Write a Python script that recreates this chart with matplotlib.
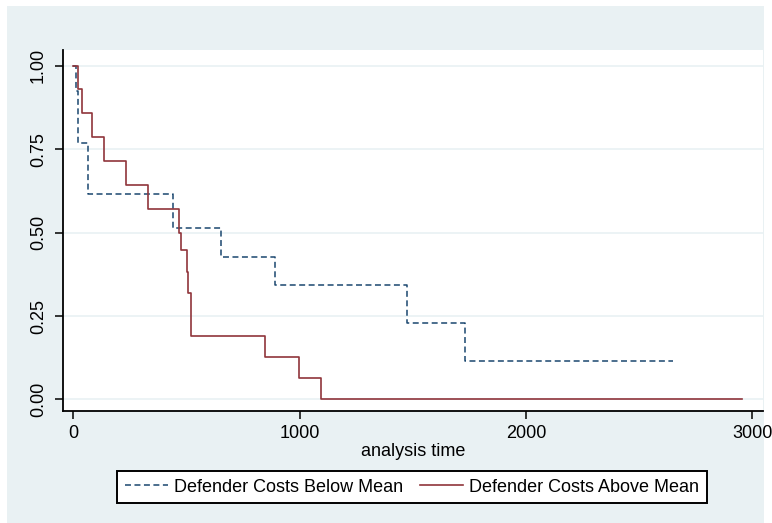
import matplotlib
matplotlib.use("Agg")
import matplotlib.pyplot as plt
import matplotlib.font_manager as font_manager
from matplotlib.patches import Rectangle

# Kaplan-Meier estimates
below_time = [0, 14, 22, 63, 440, 652, 892, 1476, 1731, 2650]
below_surv = [1.0, 0.923, 0.769, 0.615, 0.513, 0.427, 0.342, 0.228, 0.114, 0.114]

above_time = [0, 22, 40, 84, 136, 233, 329, 466, 477, 502, 509, 521, 848, 996, 1095, 2957]
above_surv = [1.0, 0.929, 0.857, 0.786, 0.714, 0.643, 0.571, 0.5, 0.447, 0.382,
              0.319, 0.191, 0.127, 0.064, 0.0, 0.0]

x_ticks = [0, 1000, 2000, 3000]
y_ticks = [0.0, 0.25, 0.50, 0.75, 1.00]
y_ticklabels = ["0.00", "0.25", "0.50", "0.75", "1.00"]

names = [f.name for f in font_manager.fontManager.ttflist]
if "Liberation Sans Narrow" in names:
    matplotlib.rcParams["font.family"] = ["Liberation Sans Narrow", "DejaVu Sans"]
    fs = 15
else:
    matplotlib.rcParams["font.family"] = ["Liberation Sans", "DejaVu Sans"]
    fs = 13

bg = "#e9f1f3"
blue = "#1a476f"
red = "#90353b"

W, H = 772, 523
fig = plt.figure(figsize=(W / 100, H / 100), dpi=100)
fig.patch.set_facecolor("white")
# grey graph region behind everything
fig.patches.append(Rectangle((7 / W, 0), (764 - 7) / W, (H - 6) / H,
                             transform=fig.transFigure, facecolor=bg,
                             edgecolor="none", zorder=-10))

ax = fig.add_axes([63 / W, (H - 410.5) / H, (763 - 63) / W, (410.5 - 50) / H])
ax.set_zorder(1)
ax.set_facecolor("white")

p1, = ax.step(below_time, below_surv, where="post", color=blue, lw=1.1,
              ls=(0, (3.9, 2.3)), label="Defender Costs Below Mean")
p2, = ax.step(above_time, above_surv, where="post", color=red, lw=1.2,
              label="Defender Costs Above Mean")

ax.set_xlim(-45.5, 3048)
ax.set_ylim(-0.033, 1.047)
ax.set_xticks(x_ticks)
ax.set_yticks(y_ticks)
ax.set_yticklabels(y_ticklabels, rotation=90, va="center")

for y in y_ticks:
    ax.axhline(y, color=bg, lw=1.2, zorder=0)

for s in ["top", "right"]:
    ax.spines[s].set_visible(False)
for s in ["left", "bottom"]:
    ax.spines[s].set_linewidth(1.3)
    ax.spines[s].set_color("black")

tkw = dict(length=5.5, width=1.1, labelsize=fs, colors="black")
ax.tick_params(axis="x", pad=5, **tkw)
ax.tick_params(axis="y", pad=6, **tkw)

ax.set_xlabel("analysis time", fontsize=fs, labelpad=1)

leg = fig.legend(handles=[p1, p2], loc="center", bbox_to_anchor=(412 / W, (H - 487) / H),
                 ncol=2, fontsize=fs, frameon=True, fancybox=False,
                 handlelength=2.4, handletextpad=0.35, columnspacing=0.9,
                 borderpad=0.4, borderaxespad=0)
leg.get_frame().set_edgecolor("black")
leg.get_frame().set_linewidth(1.4)
leg.get_frame().set_facecolor("white")
leg.get_frame().set_alpha(None)

plt.savefig("out.png", dpi=100)
